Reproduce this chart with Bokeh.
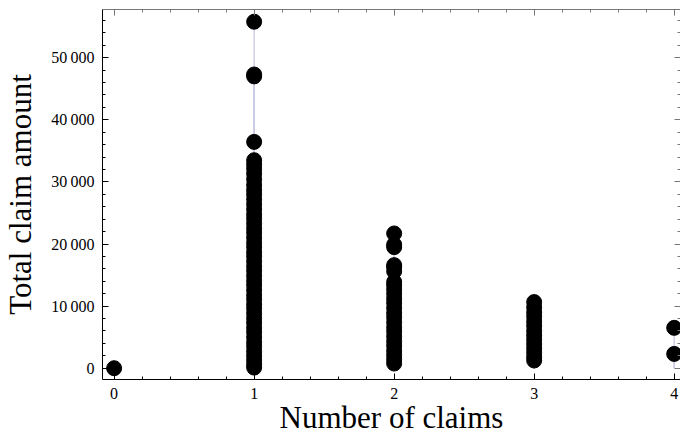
from bokeh.plotting import figure
from bokeh.models import (LinearAxis, Range1d, ColumnDataSource, SingleIntervalTicker,
                          CustomLabelingPolicy)
from bokeh.embed import file_html
from bokeh.resources import INLINE

# ---- data ----
claims_0 = [0]
claims_1 = [100, 600, 1300, 2000, 2700, 3500, 4200, 5000, 5800, 6500, 7300, 8000,
            8800, 9600, 10300, 11100, 11800, 12600, 13400, 14100, 14900, 15700,
            16400, 17200, 18000, 18700, 19500, 20200, 21000, 21800, 22500, 23300,
            24100, 24800, 25600, 26400, 27200, 28000, 28700, 29500, 30400, 31300,
            32100, 32800, 33500, 36450, 47000, 47300, 55800]
claims_2 = [750, 1400, 2100, 2800, 3600, 4300, 5100, 5900, 6600, 7400, 8200, 8900,
            9700, 10500, 11200, 12000, 12700, 13400, 13900, 15600, 16300, 16600,
            19500, 19900, 21700]
claims_3 = [1240, 1800, 2500, 3200, 3900, 4600, 5300, 6000, 6800, 7500, 8300, 9000,
            9800, 10650]
claims_4 = [2300, 6500]

groups = [claims_0, claims_1, claims_2, claims_3, claims_4]

x_ticks = [0, 1, 2, 3, 4]
x_tick_labels = ["0", "1", "2", "3", "4"]
y_ticks = [0, 10000, 20000, 30000, 40000, 50000]
y_tick_labels = ["0", "10\u2009000", "20\u2009000", "30\u2009000", "40\u2009000", "50\u2009000"]
x_title = "Number of claims"
y_title = "Total claim amount"

xs, ys = [], []
for n, vals in enumerate(groups):
    for v in vals:
        xs.append(n)
        ys.append(v)
src = ColumnDataSource(dict(x=xs, y=ys, base=[0] * len(xs)))

FONT = "Liberation Serif"

p = figure(width=680, height=437, output_backend="svg", toolbar_location=None,
           x_range=Range1d(-0.083, 4.045), y_range=Range1d(-1820, 57770),
           min_border_left=94, min_border_right=0, min_border_top=9, min_border_bottom=50,
           x_axis_location=None, y_axis_location=None)
p.xgrid.visible = False
p.ygrid.visible = False
p.outline_line_color = None
p.background_fill_color = "white"
p.border_fill_color = "white"

# filling lines (from axis to point)
p.segment(x0="x", y0="base", x1="x", y1="y", source=src,
          line_color="#c9c9e4", line_width=1.3)
p.scatter(x="x", y="y", source=src, size=15, fill_color="black", line_color="black")

no_labels = CustomLabelingPolicy(code="return new Set()")


def style(ax, ticker, ticks, labels, col):
    ax.ticker = ticker
    ax.major_tick_in = 6
    ax.major_tick_out = 0
    ax.minor_tick_in = 3
    ax.minor_tick_out = 0
    ax.axis_line_color = col
    ax.major_tick_line_color = col
    ax.minor_tick_line_color = col
    ax.axis_line_width = 1
    if labels is not None:
        ax.major_label_overrides = {t: l for t, l in zip(ticks, labels)}
        ax.major_label_text_font = FONT
        ax.major_label_text_font_size = "16px"
        ax.major_label_text_color = "black"
    else:
        ax.major_label_policy = no_labels
        ax.major_label_text_font_size = "0px"
        ax.major_label_standoff = 0


xb = LinearAxis()
style(xb, SingleIntervalTicker(interval=1, num_minor_ticks=5), x_ticks, x_tick_labels, "black")
xb.major_label_standoff = 8
xb.axis_label = x_title
xb.axis_label_text_font = FONT
xb.axis_label_text_font_size = "31px"
xb.axis_label_text_font_style = "normal"
xb.axis_label_text_color = "black"
xb.axis_label_standoff = -2
p.add_layout(xb, "below")

yl = LinearAxis()
style(yl, SingleIntervalTicker(interval=10000, num_minor_ticks=5), y_ticks, y_tick_labels, "black")
yl.major_label_standoff = 8
yl.axis_label = y_title
yl.axis_label_text_font = FONT
yl.axis_label_text_font_size = "31px"
yl.axis_label_text_font_style = "normal"
yl.axis_label_text_color = "black"
yl.axis_label_standoff = 10
p.add_layout(yl, "left")

xt = LinearAxis()
style(xt, SingleIntervalTicker(interval=1, num_minor_ticks=5), None, None, "#777777")
p.add_layout(xt, "above")

yr = LinearAxis()
style(yr, SingleIntervalTicker(interval=10000, num_minor_ticks=5), None, None, "#777777")
p.add_layout(yr, "right")

open("out.html", "w").write(file_html(p, INLINE))
